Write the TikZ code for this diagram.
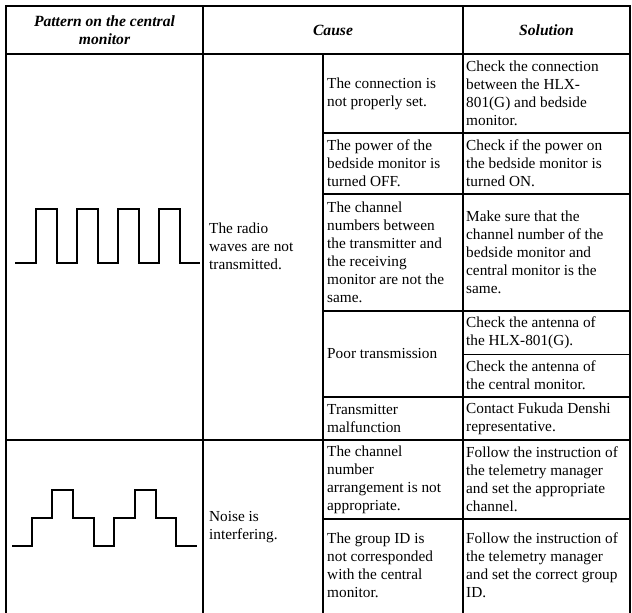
\documentclass[tikz,border=0pt]{standalone}
\usepackage{fontspec}
\setmainfont{Liberation Serif}

\begin{document}
\begin{tikzpicture}[x=1pt,y=-1pt,
    rule/.style={line width=1.8pt},
    thinrule/.style={line width=0.9pt},
    wave/.style={line width=2.6pt},
    head/.style={inner sep=0pt, align=center, font=\fontsize{15.6}{18}\selectfont\bfseries\itshape},
    cell/.style={inner sep=0pt, anchor=west, align=left, font=\fontsize{15.3}{17.9}\selectfont}]
          \useasboundingbox (0,0) rectangle (632,613);

          % header
          \node[head] (hpat) at (104.5,30) {Pattern on the central\\monitor};
          \node[head] (hcause) at (333,30) {Cause};
          \node[head] (hsol) at (546.5,30) {Solution};

          % radio waves not transmitted
          \node[cell] (radio) at (209,246) {The radio\\waves are not\\transmitted.};
          \node[cell] (c1) at (327,93.5) {The connection is\\not properly set.};
          \node[cell] (c2) at (327,163.5) {The power of the\\bedside monitor is\\turned OFF.};
          \node[cell] (c3) at (327,252.5) {The channel\\numbers between\\the transmitter and\\the receiving\\monitor are not the\\same.};
          \node[cell] (c4) at (327,354) {Poor transmission};
          \node[cell] (c5) at (327,418.5) {Transmitter\\malfunction};
          \node[cell] (s1) at (466,93.5) {Check the connection\\between the HLX-\\801(G) and bedside\\monitor.};
          \node[cell] (s2) at (466,163.5) {Check if the power on\\the bedside monitor is\\turned ON.};
          \node[cell] (s3) at (466,252.5) {Make sure that the\\channel number of the\\bedside monitor and\\central monitor is the\\same.};
          \node[cell] (s4a) at (466,332.5) {Check the antenna of\\the HLX-801(G).};
          \node[cell] (s4b) at (466,375.5) {Check the antenna of\\the central monitor.};
          \node[cell] (s5) at (466,418.5) {Contact Fukuda Denshi\\representative.};

          % noise
          \node[cell] (noise) at (209,527) {Noise is\\interfering.};
          \node[cell] (n1) at (327,479.5) {The channel\\number\\arrangement is not\\appropriate.};
          \node[cell] (n2) at (327,565) {The group ID is\\not corresponded\\with the central\\monitor.};
          \node[cell] (m1) at (466,479.5) {Follow the instruction of\\the telemetry manager\\and set the appropriate\\channel.};
          \node[cell] (m2) at (466,565) {Follow the instruction of\\the telemetry manager\\and set the correct group\\ID.};

          % grid
          \draw[rule] (6,613) -- (6,6) -- (630,6) -- (630,613);
          \draw[rule] (6,54) -- (630,54);
          \draw[rule] (203,6) -- (203,613);
          \draw[rule] (463,6) -- (463,613);
          \draw[rule] (323,54) -- (323,613);
          \draw[rule] (323,133) -- (630,133);
          \draw[rule] (323,194) -- (630,194);
          \draw[rule] (323,311) -- (630,311);
          \draw[thinrule] (463,354) -- (630,354);
          \draw[rule] (323,397) -- (630,397);
          \draw[rule] (6,440) -- (630,440);
          \draw[rule] (323,519) -- (630,519);

          % patterns
          \draw[wave] (15,263) -- (36,263) -- (36,209) -- (57,209) -- (57,263) -- (77,263)
            -- (77,209) -- (98,209) -- (98,263) -- (118,263) -- (118,209) -- (139,209)
            -- (139,263) -- (159,263) -- (159,209) -- (180,209) -- (180,263) -- (200,263);
          \draw[wave] (12,546) -- (32,546) -- (32,518) -- (52,518) -- (52,490) -- (73,490)
            -- (73,518) -- (94,518) -- (94,546) -- (114,546) -- (114,518) -- (135,518)
            -- (135,490) -- (156,490) -- (156,518) -- (176,518) -- (176,546) -- (197,546);
        \end{tikzpicture}
\end{document}
